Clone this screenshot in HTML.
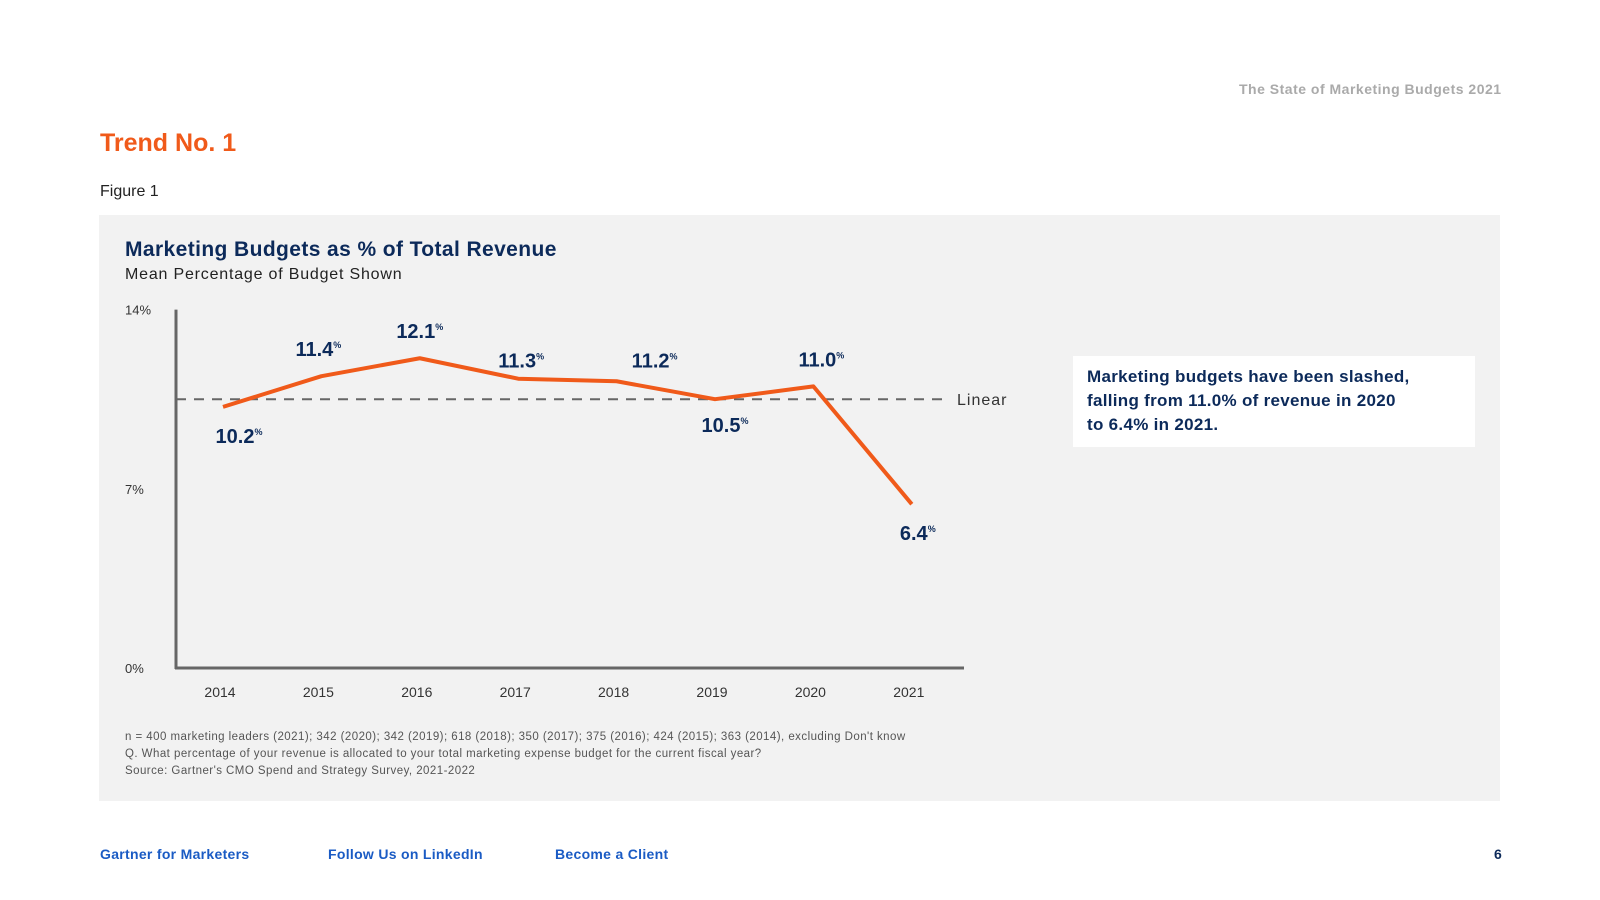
<!DOCTYPE html>
<html><head><meta charset="utf-8"><style>
body{margin:0;width:1600px;height:900px;background:#fff;font-family:"Liberation Sans",sans-serif;position:relative;overflow:hidden}
.a{position:absolute;white-space:nowrap}
</style></head><body>
<div class="a" style="left:1239px;top:81px;font-size:14px;color:#aaa;font-weight:bold;letter-spacing:0.5px">The State of Marketing Budgets 2021</div>
<div class="a" style="left:100px;top:129px;font-size:25px;color:#f05a1a;font-weight:bold">Trend No. 1</div>
<div class="a" style="left:100px;top:183px;font-size:16px;color:#222">Figure 1</div>
<div class="a" style="left:99px;top:215px;width:1401px;height:586px;background:#f2f2f2"></div>
<div class="a" style="left:125px;top:238px;font-size:21px;color:#0c2a5a;font-weight:bold;letter-spacing:0.4px">Marketing Budgets as % of Total Revenue</div>
<div class="a" style="left:125px;top:266px;font-size:16px;color:#222;letter-spacing:0.8px">Mean Percentage of Budget Shown</div>
<div class="a" style="left:1073px;top:356px;width:402px;height:91px;background:#fff;padding:0 0 0 14px;box-sizing:border-box">
<div style="margin-top:9px;font-size:17px;line-height:24px;color:#0c2a5a;font-weight:bold;white-space:normal;letter-spacing:0.3px">Marketing budgets have been slashed,<br>falling from 11.0% of revenue in 2020<br>to 6.4% in 2021.</div></div>
<svg class="a" style="left:0;top:0" width="1600" height="900" id="chart"></svg>
<div class="a" style="left:125px;top:731px;font-size:11.5px;color:#555;letter-spacing:0.45px">n = 400 marketing leaders (2021); 342 (2020); 342 (2019); 618 (2018); 350 (2017); 375 (2016); 424 (2015); 363 (2014), excluding Don't know</div>
<div class="a" style="left:125px;top:748px;font-size:11.5px;color:#555;letter-spacing:0.45px">Q. What percentage of your revenue is allocated to your total marketing expense budget for the current fiscal year?</div>
<div class="a" style="left:125px;top:765px;font-size:11.5px;color:#555;letter-spacing:0.45px">Source: Gartner's CMO Spend and Strategy Survey, 2021-2022</div>
<div class="a" style="left:100px;top:846px;font-size:14px;color:#1a5bc4;font-weight:bold;letter-spacing:0.3px">Gartner for Marketers</div>
<div class="a" style="left:328px;top:846px;font-size:14px;color:#1a5bc4;font-weight:bold;letter-spacing:0.3px">Follow Us on LinkedIn</div>
<div class="a" style="left:555px;top:846px;font-size:14px;color:#1a5bc4;font-weight:bold;letter-spacing:0.3px">Become a Client</div>
<div class="a" style="left:1494px;top:846px;font-size:14px;color:#0c2a5a;font-weight:bold">6</div>
<script>
const years=["2014","2015","2016","2017","2018","2019","2020","2021"];
const values=[10.2,11.4,12.1,11.3,11.2,10.5,11.0,6.4];
const yTicks=[0,7,14];
const trendValue=10.5;
const labelAbove=[false,true,true,true,true,false,true,false];
const NS="http://www.w3.org/2000/svg";
const svg=document.getElementById('chart');
const x0=176,x1=964,y0=668,pxPer=25.6;
const labelDx=[24,5,8,11,46,18,16,14];
const labelDy=[0,0,0,9,6,-3,0,0];
const xs=i=>223+i*98.4;
const ys=v=>y0-v*pxPer;
function mk(t,a){const e=document.createElementNS(NS,t);for(const k in a)e.setAttribute(k,a[k]);svg.appendChild(e);return e;}
let e=mk('line',{x1:x0,y1:ys(14),x2:x0,y2:y0+1,stroke:'#666',"stroke-width":3});

e=mk('line',{x1:x0-1,y1:y0,x2:x1,y2:y0,stroke:'#666',"stroke-width":3});

yTicks.forEach(t=>{const el=mk('text',{x:125,y:ys(t)+5,"font-size":13,fill:'#333',"font-family":"Liberation Sans"});el.textContent=t+'%';
});
years.forEach((y,i)=>{const el=mk('text',{x:xs(i)-3,y:697,"font-size":14,fill:'#333',"text-anchor":'middle',"font-family":"Liberation Sans"});el.textContent=y;
});
e=mk('line',{x1:x0,y1:ys(trendValue),x2:945,y2:ys(trendValue),stroke:'#666',"stroke-width":2,"stroke-dasharray":'10 8'});

e=mk('text',{x:957,y:ys(trendValue)+6,"font-size":16,fill:'#333',"letter-spacing":1,"font-family":"Liberation Sans"});e.textContent='Linear';

e=mk('polyline',{points:values.map((v,i)=>xs(i)+','+ys(v)).join(' '),fill:'none',stroke:'#f05a1a',"stroke-width":4,"stroke-linejoin":'round'});

values.forEach((v,i)=>{const yy=(labelAbove[i]?ys(v)-20:ys(v)+36)+labelDy[i];
const t=mk('text',{x:xs(i)-8+labelDx[i],y:yy,"font-size":20,"font-weight":'bold',fill:'#0c2a5a',"text-anchor":'middle',"font-family":"Liberation Sans"});
t.textContent=v.toFixed(1);
const s=document.createElementNS(NS,'tspan');s.setAttribute('font-size','9');s.setAttribute('dy','-8');s.textContent='%';t.appendChild(s);
});
</script>
</body></html>
